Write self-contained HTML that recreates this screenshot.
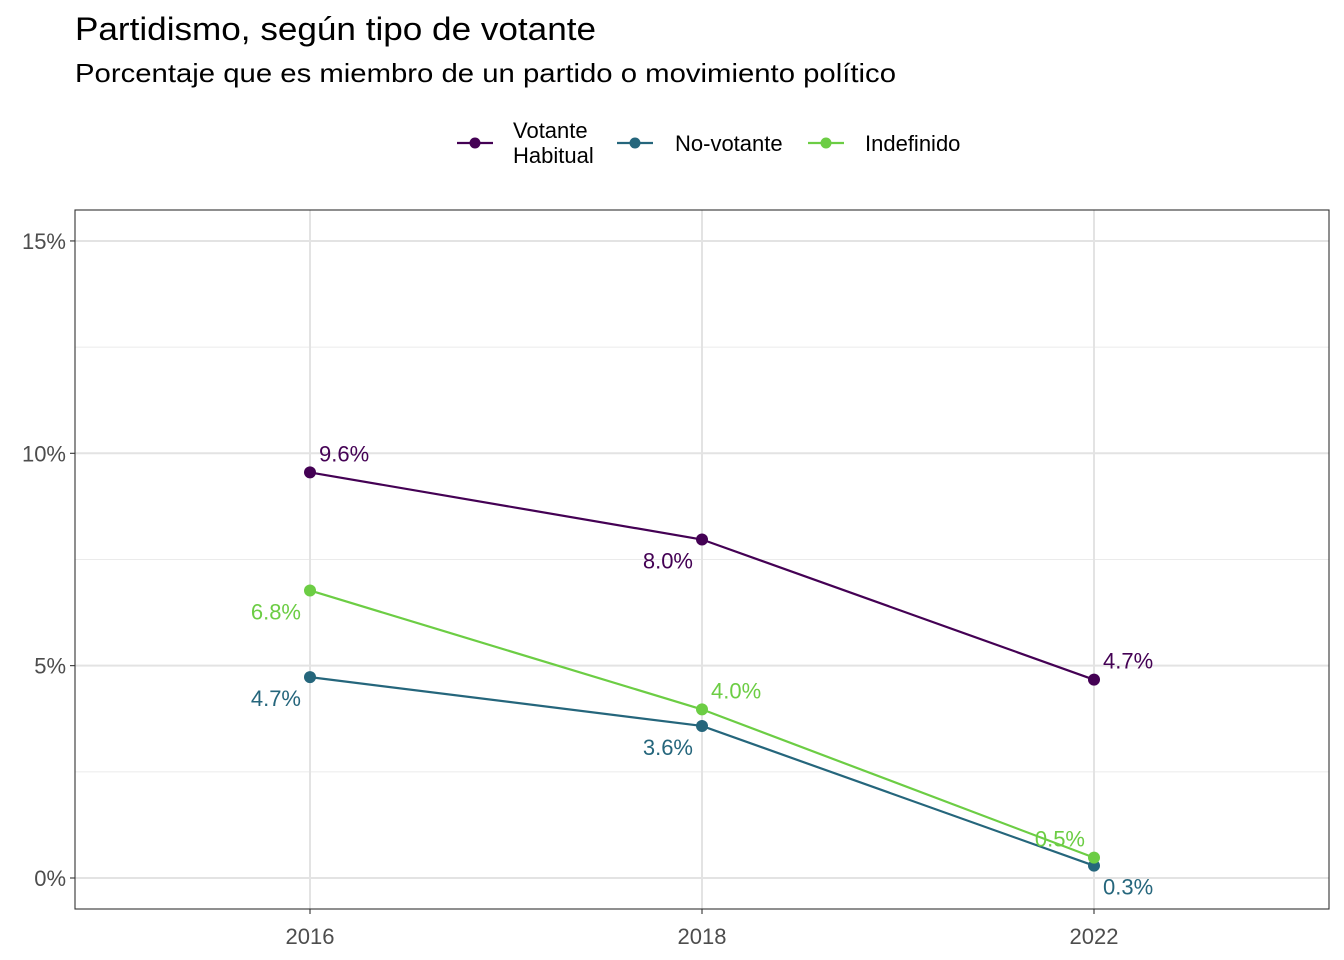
<!DOCTYPE html>
<html><head><meta charset="utf-8"><style>
html,body{margin:0;padding:0;background:#fff}
svg{display:block;font-family:"Liberation Sans",Arial,sans-serif}
</style></head><body>
<svg id="chart" width="1344" height="960" viewBox="0 0 1344 960">
<text x="75" y="40" font-size="32" textLength="521" lengthAdjust="spacingAndGlyphs" fill="#000">Partidismo, según tipo de votante</text>
<text x="75" y="82" font-size="26" textLength="821" lengthAdjust="spacingAndGlyphs" fill="#000">Porcentaje que es miembro de un partido o movimiento político</text>
<g>
 <g>
  <line x1="457" y1="143" x2="493" y2="143" stroke="#440154" stroke-width="2.2"/><circle cx="475" cy="143" r="5.5" fill="#440154"/>
  <text x="513" y="138" font-size="22">Votante</text><text x="513" y="163" font-size="22">Habitual</text>
 </g>
 <g>
  <line x1="617" y1="143" x2="653" y2="143" stroke="#25667c" stroke-width="2.2"/><circle cx="635" cy="143" r="5.5" fill="#25667c"/>
  <text x="675" y="151" font-size="22">No-votante</text>
 </g>
 <g>
  <line x1="808" y1="143" x2="844" y2="143" stroke="#6ccd44" stroke-width="2.2"/><circle cx="826" cy="143" r="5.5" fill="#6ccd44"/>
  <text x="865" y="151" font-size="22">Indefinido</text>
 </g>
</g>
<g id="grid"></g>
<rect x="75" y="210" width="1254" height="699" fill="none" stroke="#333" stroke-width="1.1"/>
<g id="axes"></g>
<g id="series"></g>
</svg>
<script>
const categories = ["2016","2018","2022"];
const seriesNames = ["Votante Habitual","No-votante","Indefinido"];
const votanteHabitual = [9.55, 7.97, 4.67];
const noVotante = [4.73, 3.58, 0.29];
const indefinido = [6.77, 3.97, 0.48];
const yTicks = [0,5,10,15];
const yTickLabels = ["0%","5%","10%","15%"];

const NS="http://www.w3.org/2000/svg";
const x = i => 310 + i*392;
const y = v => 878 - v*42.47;
function mk(tag, attrs, parent){const e=document.createElementNS(NS,tag);for(const k in attrs)e.setAttribute(k,attrs[k]);parent.appendChild(e);return e;}
const grid=document.getElementById('grid'), axes=document.getElementById('axes'), ser=document.getElementById('series');
for(let v=2.5; v<15; v+=5){
 const l=mk('line',{x1:75,x2:1329,y1:y(v),y2:y(v),stroke:'#ebebeb','stroke-width':1},grid);
 
 
}
yTicks.forEach((t,i)=>{
 const l=mk('line',{x1:75,x2:1329,y1:y(t),y2:y(t),stroke:'#e3e3e3','stroke-width':2},grid);
 
 
 mk('line',{x1:70,x2:75,y1:y(t),y2:y(t),stroke:'#333','stroke-width':1.1},axes);
 const tx=mk('text',{x:66,y:y(t)+8,'font-size':22,fill:'#4d4d4d','text-anchor':'end'},axes);
 tx.textContent=yTickLabels[i];
 
 
});
categories.forEach((c,i)=>{
 const l=mk('line',{x1:x(i),x2:x(i),y1:210,y2:909,stroke:'#e3e3e3','stroke-width':2},grid);
 
 
 mk('line',{x1:x(i),x2:x(i),y1:909,y2:914,stroke:'#333','stroke-width':1.1},axes);
 const tx=mk('text',{x:x(i),y:944,'font-size':22,fill:'#4d4d4d','text-anchor':'middle'},axes);
 tx.textContent=c;
 
 
});
const colors=["#440154","#25667c","#6ccd44"];
const place=[[[1,-1],[-1,1],[1,-1]],[[-1,1],[-1,1],[1,1]],[[-1,1],[1,-1],[-1,-1]]];
[votanteHabitual,noVotante,indefinido].forEach((vals,s)=>{
 const g=mk('g',{},ser);
 
 
 const p=mk('polyline',{points:vals.map((v,i)=>x(i)+','+y(v)).join(' '),fill:'none',stroke:colors[s],'stroke-width':2.2},g);
 
 
 vals.forEach((v,i)=>{
  const c=mk('circle',{cx:x(i),cy:y(v),r:6,fill:colors[s]},g);
  
  
  const [sx,sy]=place[s][i];
  const t=mk('text',{x:x(i)+sx*9,y:y(v)+(sy<0?-11:29),'font-size':22,fill:colors[s],'text-anchor':sx>0?'start':'end'},g);
  t.textContent=v.toFixed(1)+'%';
  
  
 });
});
</script>
</body></html>
